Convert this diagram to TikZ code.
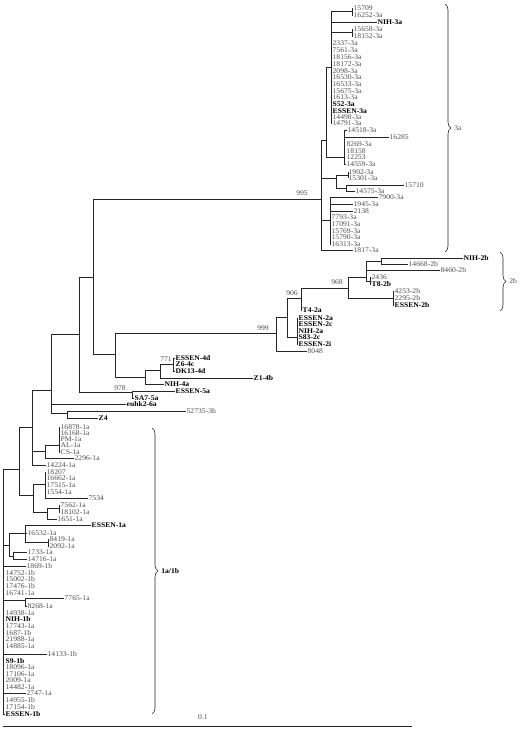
\documentclass[tikz,border=0pt]{standalone}
\usepackage{fontspec}
\setmainfont[FakeStretch=1.06]{Liberation Serif}
\usetikzlibrary{decorations.pathreplacing}

\tikzset{
  strain/.style={font=\fontsize{7.2}{8}\selectfont, text=black!70, inner sep=0.3pt, anchor=west},
  refstrain/.style={strain, text=black, font=\fontsize{7.2}{8}\selectfont\bfseries},
  boot/.style={font=\fontsize{7.2}{8}\selectfont, text=black!70, inner sep=0pt},
  clade/.style={decorate, decoration={brace, amplitude=6pt}, line width=0.6pt}
}

\begin{document}
\begin{tikzpicture}[x=1pt,y=-1pt,line width=0.75pt,draw=black!85]
\useasboundingbox (0,0) rectangle (522,729);

% 3a
\coordinate (r3) at (321,199);
\coordinate (u3) at (326,140);
\coordinate (t3) at (331,67);
\coordinate (k1) at (352,11.5);
\coordinate (k2) at (352,32.5);
\coordinate (w3) at (344,157);
\coordinate (m3) at (336,178);
\coordinate (m1) at (348,175);
\coordinate (m2) at (346,188);
\coordinate (l3) at (330,220);
\node[strain] (l15709) at (353,8) {15709};
\node[strain] (l16252) at (353,15) {16252-3a};
\node[refstrain] (nih3a) at (377,22) {NIH-3a};
\node[strain] (l15658) at (353,29) {15658-3a};
\node[strain] (l18152) at (353,36) {18152-3a};
\foreach \y/\t/\s in {43/2337-3a/strain, 50/7561-3a/strain, 57/18156-3a/strain,
  64/18172-3a/strain, 71/2098-3a/strain, 77/16530-3a/strain, 84/16533-3a/strain,
  91/15675-3a/strain, 97/1613-3a/strain, 104/S52-3a/refstrain, 111/ESSEN-3a/refstrain,
  117/14498-3a/strain, 123/14791-3a/strain}
  \node[\s] (z\t) at (332,\y) {\t};
\node[strain] (l14518) at (347,130) {14518-3a};
\node[strain] (l16285) at (389,137) {16285};
\foreach \y/\t in {144/8269-3a, 151/18158, 157/12253, 164/14559-3a}
  \node[strain] (z\t) at (346,\y) {\t};
\node[strain] (l1902) at (348,172) {1902-3a};
\node[strain] (l15301) at (348,178) {15301-3a};
\node[strain] (l15710) at (404,185) {15710};
\node[strain] (l14575) at (355,191) {14575-3a};
\node[strain] (l7900) at (378,197) {7900-3a};
\node[strain] (l1945) at (353,204) {1945-3a};
\node[strain] (l2138) at (353,211) {2138};
\foreach \y/\t in {217/7793-3a, 224/17091-3a, 231/15769-3a, 237/15790-3a, 244/16313-3a}
  \node[strain] (z\t) at (331,\y) {\t};
\node[strain] (l1817) at (353,250) {1817-3a};
\draw (r3) |- (u3) (r3) |- (m3) (r3) |- (l1817.west) (r3) |- (l3);
\draw (u3) |- (t3) (u3) |- (w3);
\draw (t3) |- (k1) (t3) |- (nih3a.west) (t3) |- (k2) (t3) |- (z14791-3a.west);
\draw (k1) |- (l15709.west) (k1) |- (l16252.west) (k2) |- (l15658.west) (k2) |- (l18152.west);
\draw (w3) |- (l14518.west) (w3) |- (l16285.west) (w3) |- (z14559-3a.west);
\draw (m3) |- (m1) (m3) |- (m2) (m1) |- (l1902.west) (m1) |- (l15301.west)
  (m2) |- (l15710.west) (m2) |- (l14575.west);
\draw (l3) |- (l7900.west) (l3) |- (l1945.west) (l3) |- (l2138.west) (l3) |- (z16313-3a.west);

% 2a / 2b
\coordinate (b93) at (93,277);
\coordinate (n115) at (115,354);
\coordinate (n276) at (276,333);
\coordinate (n287) at (287,317);
\coordinate (n301) at (301,298);
\coordinate (n297) at (297,337);
\coordinate (n348) at (348,288);
\coordinate (p366) at (366,277);
\coordinate (n381) at (381,261);
\coordinate (t370) at (370,281);
\coordinate (q393) at (393,298);
\node[refstrain] (t42a) at (302,310) {T4-2a};
\foreach \y/\t in {318/ESSEN-2a, 324/ESSEN-2c, 331/NIH-2a, 337/S83-2c, 344/ESSEN-2i}
  \node[refstrain] (z\t) at (298,\y) {\t};
\node[strain] (l8048) at (307,351) {8048};
\node[refstrain] (nih2b) at (463,258) {NIH-2b};
\node[strain] (l14668) at (408,264) {14668-2b};
\node[strain] (l8460) at (440,270) {8460-2b};
\node[strain] (l2436) at (371,277) {2436};
\node[refstrain] (t82b) at (371,284) {T8-2b};
\node[strain] (l4253) at (394,291) {4253-2b};
\node[strain] (l2295) at (394,298) {2295-2b};
\node[refstrain] (essen2b) at (394,305) {ESSEN-2b};
\draw (b93) |- (r3) (b93) |- (n115);
\draw (n115) |- (n276);
\draw (n276) |- (n287) (n276) |- (l8048.west);
\draw (n287) |- (n301) (n287) |- (n297);
\draw (n301) |- (n348) (n301) |- (t42a.west);
\draw (n297) |- (zESSEN-2a.west) (n297) |- (zESSEN-2i.west);
\draw (n348) |- (p366) (n348) |- (q393);
\draw (p366) |- (n381) (p366) |- (l8460.west) (p366) |- (t370);
\draw (n381) |- (nih2b.west) (n381) |- (l14668.west);
\draw (t370) |- (l2436.west) (t370) |- (t82b.west);
\draw (q393) |- (l4253.west) (q393) |- (essen2b.west);
\node[boot] (bs995) at (302,193) {995};
\node[boot] (bs999) at (263,328) {999};
\node[boot] (bs906) at (292,293) {906};
\node[boot] (bs968) at (337,282) {968};

% 4, 5, 6
\coordinate (n145) at (145,377);
\coordinate (n160) at (160,370);
\coordinate (n173) at (173,364);
\foreach \y/\t in {358/ESSEN-4d, 364.5/Z6-4c, 371/DK13-4d}
  \node[refstrain] (z\t) at (175,\y) {\t};
\node[refstrain] (z14b) at (253,378) {Z1-4b};
\node[refstrain] (nih4a) at (164,384) {NIH-4a};
\draw (n115) |- (n145);
\draw (n145) |- (n160) (n145) |- (nih4a.west) (n160) |- (n173) (n160) |- (z14b.west)
  (n173) |- (zESSEN-4d.west) (n173) |- (zDK13-4d.west);
\node[boot] (bs771) at (166,359) {771};
\coordinate (n79) at (79,334);
\coordinate (n132) at (132,392);
\node[refstrain] (e5a) at (175,391) {ESSEN-5a};
\node[refstrain] (sa7) at (134,398) {SA7-5a};
\draw (n79) |- (b93) (n79) |- (n132) (n132) |- (e5a.west) (n132) |- (sa7.west);
\node[boot] (bs978) at (120,388) {978};
\coordinate (n51) at (51,390);
\coordinate (n67) at (67,413);
\node[refstrain] (eu6a) at (126,404) {euhk2-6a};
\node[strain] (l52735) at (186,411) {52735-3h};
\node[refstrain] (z4) at (98,418) {Z4};
\draw (n51) |- (n79) (n51) |- (eu6a.west) (n51) |- (n67) (n67) |- (l52735.west) (n67) |- (z4.west);

% 1a / 1b
\coordinate (n32) at (32,427);
\coordinate (a45) at (45,451);
\coordinate (a59) at (59,445);
\foreach \y/\t in {427/16878-1a, 433/16168-1a, 439/PM-1a, 445/AL-1a, 452/CS-1a}
  \node[strain] (z\t) at (60,\y) {\t};
\node[strain] (l2296) at (74,458) {2296-1a};
\node[strain] (l14224) at (46,465) {14224-1a};
\draw (n32) |- (n51) (n32) |- (a45) (n32) |- (l14224.west) (a45) |- (a59) (a45) |- (l2296.west)
  (a59) |- (z16878-1a.west) (a59) |- (zCS-1a.west);
\coordinate (n19) at (19,469);
\coordinate (n33) at (33,495);
\coordinate (a45b) at (45,484);
\foreach \y/\t in {472/18207, 478/16662-1a, 485/17515-1a, 492/1554-1a}
  \node[strain] (z\t) at (46,\y) {\t};
\node[strain] (l7534) at (88,498) {7534};
\coordinate (a47) at (47,512);
\coordinate (t60) at (59,508.5);
\node[strain] (l7562) at (60,505) {7562-1a};
\node[strain] (l18102) at (60,512) {18102-1a};
\node[strain] (l1651) at (57,519) {1651-1a};
\draw (n19) |- (n32) (n19) |- (n33) (n33) |- (a45b) (n33) |- (a47)
  (a45b) |- (z18207.west) (a45b) |- (l7534.west)
  (a47) |- (t60) (a47) |- (l1651.west) (t60) |- (l7562.west) (t60) |- (l18102.west);
\coordinate (rt) at (3,590);
\coordinate (n9) at (9,545);
\coordinate (n25) at (25,533);
\coordinate (t48) at (48,542.5);
\coordinate (n13) at (13,556);
\node[refstrain] (e1a) at (91,525) {ESSEN-1a};
\node[strain] (l16532) at (27,533) {16532-1a};
\node[strain] (l8419) at (49,539) {8419-1a};
\node[strain] (l2092) at (49,546) {2092-1a};
\node[strain] (l1733) at (27,552) {1733-1a};
\node[strain] (l14716) at (27,559) {14716-1a};
\node[strain] (l1869) at (26,566) {1869-1b};
\draw (n9) |- (n25) (n9) |- (n13) (n25) |- (e1a.west) (n25) |- (l16532.west) (n25) |- (t48)
  (t48) |- (l8419.west) (t48) |- (l2092.west) (n13) |- (l1733.west) (n13) |- (l14716.west);
\foreach \y/\t/\s in {573/14752-1b/strain, 579/15002-1b/strain, 586/17476-1b/strain,
  593/16741-1a/strain, 613/14938-1a/strain, 619.5/NIH-1b/refstrain, 626/17743-1a/strain,
  633/1687-1b/strain, 639.5/21988-1a/strain, 646/14885-1a/strain, 661/S9-1b/refstrain,
  667.5/18096-1a/strain, 674/17106-1a/strain, 680.5/2009-1a/strain, 687/14482-1a/strain,
  700/14955-1b/strain, 707/17154-1b/strain, 714/ESSEN-1b/refstrain}
  \node[\s] (z\t) at (5,\y) {\t};
\coordinate (n25b) at (25,600);
\node[strain] (l7765) at (64,598) {7765-1a};
\node[strain] (l8268) at (27,606) {8268-1a};
\node[strain] (l14133) at (47,654) {14133-1b};
\node[strain] (l2747) at (26,693) {2747-1a};
\draw (rt) |- (n19) (rt) |- (n9) (rt) |- (l1869.west) (rt) |- (n25b) (rt) |- (zESSEN-1b.west)
  (rt) |- (l14133.west) (rt) |- (l2747.west)
  (n25b) |- (l7765.west) (n25b) |- (l8268.west);

% clades and scale
\coordinate (c3a0) at (445,4);
\coordinate (c3a1) at (445,252);
\coordinate (c2b0) at (500,252);
\coordinate (c2b1) at (500,311);
\coordinate (c1a0) at (152,428);
\coordinate (c1a1) at (152,714);
\draw[clade] (c3a0) -- (c3a1) node[boot, midway, right=9pt] (lab3a) {3a};
\draw[clade] (c2b0) -- (c2b1) node[boot, midway, right=9pt] (lab2b) {2b};
\draw[clade] (c1a0) -- (c1a1) node[boot, midway, right=9pt, text=black, font=\fontsize{7.2}{8}\selectfont\bfseries] (lab1a) {1a/1b};
\coordinate (sc0) at (3,726);
\coordinate (sc1) at (412,726);
\draw (sc0) -- (sc1);
\node[boot] (sclab) at (203,717) {0.1};
\end{tikzpicture}
\end{document}
